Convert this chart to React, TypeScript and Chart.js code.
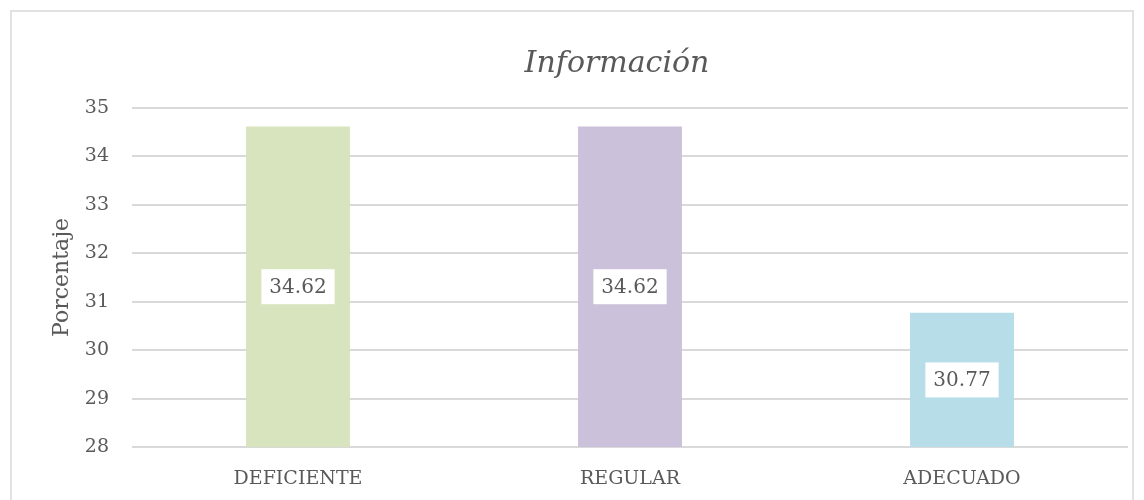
import React, { useEffect, useRef } from "react";
import { Chart, registerables } from "chart.js";

Chart.register(...registerables);

const categories = ["DEFICIENTE", "REGULAR", "ADECUADO"];
const values = [34.62, 34.62, 30.77];
const barColors = ["#d7e4bd", "#ccc1da", "#b7dde8"];
const yTicks = [28, 29, 30, 31, 32, 33, 34, 35];
const titleText = "Información";
const yTitle = "Porcentaje";

const FONT = "'DejaVu Serif', serif";
const TEXT = "#595959";

const decor = {
  id: "decor",
  beforeDraw(chart: any) {
    const ctx = chart.ctx;
    ctx.save();
    ctx.fillStyle = "#ffffff";
    ctx.fillRect(0, 0, chart.width, chart.height);
    ctx.strokeStyle = "#d9d9d9";
    ctx.lineWidth = 1.5;
    ctx.strokeRect(3, 3, chart.width - 6, chart.height + 20);
    ctx.restore();
  },
  afterDraw(chart: any) {
    const ctx = chart.ctx;
    const area = chart.chartArea;
    const ys = chart.scales.y;
    const xs = chart.scales.x;
    ctx.save();
    // title
    ctx.fillStyle = TEXT;
    ctx.font = `italic 30px ${FONT}`;
    ctx.textAlign = "center";
    ctx.textBaseline = "middle";
    ctx.fillText(titleText, (area.left + area.right) / 2 - 13, 56);
    // y title
    ctx.save();
    ctx.translate(54, (area.top + area.bottom) / 2);
    ctx.rotate(-Math.PI / 2);
    ctx.font = `22px ${FONT}`;
    ctx.fillText(yTitle, 0, 0);
    ctx.restore();
    // data labels
    ctx.font = `20px ${FONT}`;
    values.forEach((v, i) => {
      const txt = v.toFixed(2);
      const x = xs.getPixelForValue(i);
      const top = ys.getPixelForValue(v);
      const cy = (top + area.bottom) / 2;
      const w = ctx.measureText(txt).width + 16;
      const h = 35;
      ctx.fillStyle = "#ffffff";
      ctx.fillRect(x - w / 2, cy - h / 2, w, h);
      ctx.fillStyle = TEXT;
      ctx.fillText(txt, x, cy + 1);
    });
    ctx.restore();
  },
};

export default function App() {
  const ref = useRef<HTMLCanvasElement>(null);
  useEffect(() => {
    if (!ref.current) return;
    const chart = new Chart(ref.current, {
      type: "bar",
      data: {
        labels: categories,
        datasets: [
          {
            data: values,
            backgroundColor: barColors,
            categoryPercentage: 1,
            barPercentage: 0.313,
          },
        ],
      },
      options: {
        animation: false,
        responsive: true,
        maintainAspectRatio: false,
        layout: { padding: { top: 100, right: 8, left: 0, bottom: 0 } },
        plugins: {
          legend: { display: false },
          title: { display: false },
          tooltip: { enabled: false },
        },
        scales: {
          x: {
            grid: { display: false, drawTicks: false },
            border: { display: false },
            ticks: {
              color: TEXT,
              font: { family: FONT, size: 19 },
              padding: 21,
            },
            afterFit(scale: any) {
              scale.height = 53;
            },
          },
          y: {
            min: 28,
            max: 35,
            afterBuildTicks(scale: any) {
              scale.ticks = yTicks.map((v) => ({ value: v }));
            },
            grid: { color: "#d9d9d9", lineWidth: 2, drawTicks: false },
            border: { display: false },
            ticks: {
              color: TEXT,
              font: { family: FONT, size: 19 },
              padding: 23,
            },
            afterFit(scale: any) {
              scale.width = 124;
            },
          },
        },
      },
      plugins: [decor],
    });
    return () => chart.destroy();
  }, []);
  return (
    <div style={{ width: 1128, height: 492, position: "relative" }}>
      <canvas ref={ref} />
    </div>
  );
}
